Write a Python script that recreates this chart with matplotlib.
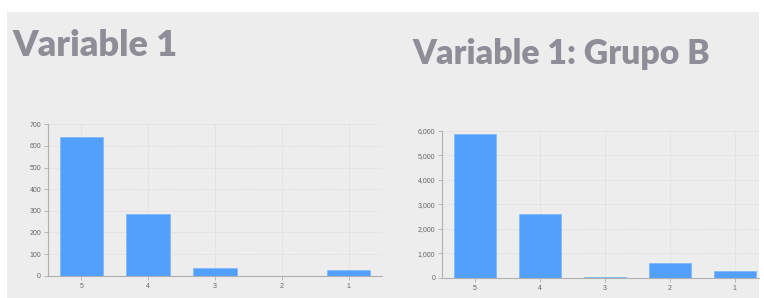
import matplotlib.pyplot as plt
from matplotlib.patches import Rectangle
from matplotlib.ticker import FuncFormatter

categories = ["5", "4", "3", "2", "1"]
total_values = [640, 284, 34, 0, 25]
grupo_b_values = [5850, 2600, 40, 600, 300]

W, H = 764, 298
fig = plt.figure(figsize=(W / 100, H / 100), dpi=100)
fig.patch.set_facecolor("white")
fig.patches.append(Rectangle((7 / W, 0), (759 - 7) / W, 1 - 12 / H,
                             transform=fig.transFigure, facecolor="#ededed",
                             edgecolor="none", zorder=-5))

bar_color = "#539ffc"
title_color = "#8f8d98"


def make_axes(px_left, px_right, px_top, px_bottom):
    return fig.add_axes([px_left / W, 1 - px_bottom / H,
                         (px_right - px_left) / W, (px_bottom - px_top) / H])


def style(ax, values, ymax, step, fmt):
    x = range(len(categories))
    ax.bar(x, values, width=0.65, color=bar_color, edgecolor="#7db6fd",
           linewidth=0.5, zorder=3)
    ax.set_facecolor("none")
    ax.set_ylim(0, ymax)
    ax.set_yticks(range(0, ymax + 1, step))
    ax.yaxis.set_major_formatter(FuncFormatter(fmt))
    ax.set_xticks(list(x))
    ax.set_xticklabels(categories)
    ax.grid(True, color="#d8d8d8", linestyle=(0, (1, 1)), linewidth=0.6)
    ax.set_axisbelow(True)
    for s in ["top", "right"]:
        ax.spines[s].set_visible(False)
    for s in ["left", "bottom"]:
        ax.spines[s].set_color("#b0b0b0")
        ax.spines[s].set_linewidth(0.8)
    ax.tick_params(labelsize=5, colors="#b0b0b0", labelcolor="#666666",
                   length=3, width=0.6, pad=2)
    for lbl in ax.get_xticklabels() + ax.get_yticklabels():
        lbl.set_family("Liberation Sans")


ax1 = make_axes(48, 382, 124.3, 275.7)
style(ax1, total_values, 700, 100, lambda v, p: f"{int(v)}")
ax1.set_xlim(-0.5, 4.5)

ax2 = make_axes(442.3, 759, 130.7, 278)
style(ax2, grupo_b_values, 6000, 1000, lambda v, p: f"{int(v):,}")
ax2.set_xlim(-0.5, (759 - 442.3) / 65 - 0.5)

fig.text(12 / W, 1 - 56 / H, "Variable 1", fontsize=26, fontweight="heavy",
         family=["Lato", "DejaVu Sans"], color=title_color, va="baseline")
fig.text(412 / W, 1 - 64 / H, "Variable 1: Grupo B", fontsize=24.3,
         fontweight="heavy", family=["Lato", "DejaVu Sans"], color=title_color,
         va="baseline")

fig.savefig("out.png", dpi=100)
